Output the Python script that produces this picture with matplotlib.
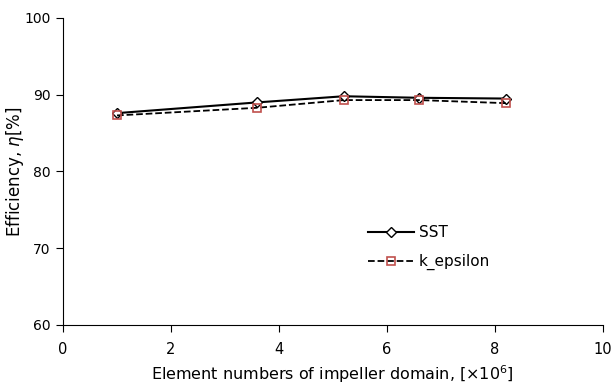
import matplotlib
matplotlib.use("Agg")
import matplotlib.pyplot as plt

elements = [1.0, 3.6, 5.2, 6.6, 8.2]
sst = [87.6, 89.0, 89.8, 89.6, 89.5]
k_eps = [87.3, 88.3, 89.3, 89.3, 88.9]

plt.rcParams['font.family'] = 'DejaVu Sans'

fig = plt.figure(figsize=(6.12, 3.91), dpi=100)
ax = fig.add_axes([0.103, 0.169, 0.882, 0.785])

ax.plot(elements, sst, '-', color='black', lw=1.5, marker='D', ms=5,
        mfc='white', mec='black', mew=1.0, label='SST')
ax.plot(elements, k_eps, '--', color='black', lw=1.3, marker='s', ms=6,
        mfc='none', mec='#c0504d', mew=1.2, label='k_epsilon')

ax.set_xlim(0, 10)
ax.set_ylim(60, 100)
ax.set_xticks([0, 2, 4, 6, 8, 10])
ax.set_yticks([60, 70, 80, 90, 100])
ax.spines['top'].set_visible(False)
ax.spines['right'].set_visible(False)
ax.tick_params(direction='out', length=5, labelsize=10.5, colors='black')
ax.tick_params(axis='x', pad=7)
ax.tick_params(axis='y', pad=4, labelsize=10)
ax.set_xlabel(r'Element numbers of impeller domain, [$\times$10$^6$]', fontsize=11.5, labelpad=5)
ax.set_ylabel(r'Efficiency, $\eta$[%]', fontsize=12)
ax.yaxis.set_label_coords(-0.068, 0.5)

ax.legend(loc='upper left', bbox_to_anchor=(0.54, 0.37), frameon=False,
          fontsize=11, handlelength=3, labelspacing=0.9, handletextpad=0.3)

fig.savefig('out.png', dpi=100)
